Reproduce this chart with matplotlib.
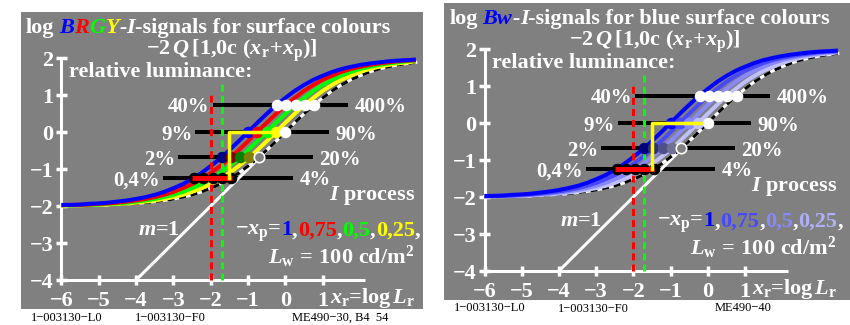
import numpy as np
import matplotlib
matplotlib.use('Agg')
import matplotlib.pyplot as plt
from matplotlib.transforms import offset_copy

W, H = 850, 325
plt.rcParams.update({
    'font.family': ['Liberation Serif', 'DejaVu Serif'],
    'font.weight': 'bold',
    'mathtext.fontset': 'custom',
    'mathtext.rm': 'Liberation Serif:bold',
    'mathtext.it': 'Liberation Serif:italic:bold',
    'mathtext.bf': 'Liberation Serif:bold',
    'mathtext.default': 'rm',
    'lines.scale_dashes': False,
})

# ---------------- data ----------------
x_ticks = [-6, -5, -4, -3, -2, -1, 0, 1]
y_ticks = [-4, -3, -2, -1, 0, 1, 2]
x_tick_labels = ['\u22126', '\u22125', '\u22124', '\u22123', '\u22122', '\u22121', '0', '1']
y_tick_labels = ['\u22124', '\u22123', '\u22122', '\u22121', '0', '1', '2']

# base curve (dashed, -xp = 0)
base_u = [-6.0, -5.75, -5.5, -5.25, -5.0, -4.75, -4.5, -4.25, -4.0, -3.75, -3.5,
          -3.25, -3.0, -2.75, -2.5, -2.25, -2.0, -1.75, -1.5, -1.25, -1.0, -0.75,
          -0.5, -0.25, 0.0, 0.25, 0.5, 0.75, 1.0, 1.25, 1.5, 1.75, 2.0, 2.25, 2.5,
          2.75, 3.0, 3.25, 3.5, 3.75, 4.0, 4.25, 4.5]
base_y = [-1.99, -1.99, -1.98, -1.98, -1.97, -1.97, -1.96, -1.94, -1.93, -1.91, -1.88,
          -1.85, -1.81, -1.76, -1.70, -1.62, -1.52, -1.41, -1.27, -1.11, -0.92, -0.72,
          -0.49, -0.25, 0.00, 0.25, 0.49, 0.72, 0.92, 1.11, 1.27, 1.41, 1.52, 1.62, 1.70,
          1.76, 1.81, 1.85, 1.88, 1.91, 1.93, 1.94, 1.96]
neg_xp = [1.0, 0.75, 0.5, 0.25]          # curve shifts (blue ... yellow)
neg_xp_labels = ['1', '0,75', '0,5', '0,25']

row_levels = [0.74, 0.0, -0.68, -1.24]
left_pct = ['40%', '9%', '2%', '0,4%']
right_pct = ['400%', '90%', '20%', '4%']
bar_start = [-1.95, -2.41, -2.87, -3.27]
bar_end = [1.67, 1.16, 0.73, 0.20]
row_points = [[-0.22, 0.03, 0.28, 0.53, 0.78],
              [-1.00, -0.75, -0.50, -0.25, 0.00],
              [-1.71, -1.46, -1.21, -0.96, -0.71],
              [-2.45, -2.20, -1.95, -1.70, -1.45]]
ref_x = [-2.0, -1.7]
red_bar = [-2.49, -1.44]
yellow_step_x = [-1.5, -1.5, 0.0]
yellow_step_y = [-1.24, 0.0, 0.0]
unit_line_x = [-4.0, 0.0]

left_colors = ['#0000ff', '#ff0000', '#00ff00', '#ffff00']
left_dark = ['#000080', '#800000', '#008000', '#808000']
right_colors = ['#0000ff', '#4848ff', '#8888ff', '#c0c0ff']
right_dark = ['#000080', '#303078', '#505088', '#707090']
right_label_colors = ['#0000ff', '#4848ff', '#8888ff', '#b0b0f8']

GREY = '#808080'
PX = 1 / 1.389  # points per pixel

fig = plt.figure(figsize=(8.5, 3.25), dpi=100)
fig.patch.set_facecolor('white')
renderer = fig.canvas.get_renderer()


def chain(ax, x, y, pieces, size, ha='left'):
    # place coloured text pieces one after another (pixel offsets)
    texts = []
    dx = 0.0
    for p in pieces:
        if isinstance(p, (int, float)):
            dx += p
            continue
        s, color, style = p
        tr = offset_copy(ax.transData, fig=fig, x=dx, y=0, units='dots')
        t = ax.text(x, y, s, color=color, fontsize=size, fontstyle=style,
                    transform=tr, ha='left', va='baseline', clip_on=False, zorder=10)
        dx += t.get_window_extent(renderer).width
        texts.append(t)
    return texts


def panel(left_px, top_px, width_px, ppu_x, colors, dark, label_colors, title_pieces, footer):
    h_px = 297
    ax = fig.add_axes([left_px / W, 1 - (top_px + h_px) / H, width_px / W, h_px / H])
    ax.set_facecolor(GREY)
    for sp in ax.spines.values():
        sp.set_visible(False)
    ax.set_xticks([])
    ax.set_yticks([])
    x0 = -6 - 40.5 / ppu_x
    ax.set_xlim(x0, x0 + width_px / ppu_x)
    ax.set_ylim(-4 - 29 / 37.0, -4 + 268 / 37.0)

    # axes
    ax.plot([-6, -6], [-4, 2], color='white', lw=3 * PX, zorder=3, solid_capstyle='butt')
    ax.plot([-6, 2.15], [-4, -4], color='white', lw=3 * PX, zorder=3, solid_capstyle='butt')
    for yt, lab in zip(y_ticks, y_tick_labels):
        ax.plot([-6.14, -5.86], [yt, yt], color='white', lw=3.5 * PX, zorder=3, solid_capstyle='butt')
        ax.text(-6.22, yt, lab, color='white', fontsize=16, ha='right', va='center_baseline')
    for xt, lab in zip(x_ticks, x_tick_labels):
        ax.plot([xt, xt], [-4.13, -3.87], color='white', lw=3.5 * PX, zorder=3, solid_capstyle='butt')
        ax.text(xt, -4.5, lab, color='white', fontsize=16, ha='center', va='center_baseline')
    ax.text(1.2, -4.62, r'$\mathit{x}_\mathrm{r}$=log$\,\mathit{L}_\mathrm{r}$', color='white',
            fontsize=16, ha='left', va='baseline')

    # bars and labels
    for yl, xs, xe, lp, rp in zip(row_levels, bar_start, bar_end, left_pct, right_pct):
        ax.plot([xs, xe], [yl, yl], color='black', lw=4 * PX, zorder=2, solid_capstyle='butt')
        ax.text(xs - 0.08, yl, lp, color='white', fontsize=15, ha='right', va='center_baseline')
        ax.text(xe + 0.18, yl, rp, color='white', fontsize=15, ha='left', va='center_baseline')

    # unit slope line
    ax.plot(unit_line_x, unit_line_x, color='white', lw=3 * PX, zorder=3)

    # curves
    bu = np.array(base_u)
    by = np.array(base_y)
    m = (bu >= -6) & (bu <= 3.5)
    ax.plot(bu[m], by[m], color='white', lw=3 * PX, zorder=4)
    ax.plot(bu[m], by[m], color='black', lw=3 * PX, zorder=4, dashes=(5, 3.5))
    for s, c in zip(neg_xp[::-1], colors[::-1]):
        xr = bu - s
        mm = (xr >= -6) & (xr <= 3.5)
        ax.plot(xr[mm], by[mm], color=c, lw=4 * PX, zorder=4, solid_capstyle='butt')

    # reference dashed verticals
    ax.plot([ref_x[0], ref_x[0]], [-4, 1.05], color='#ff0000', lw=3 * PX, zorder=5, dashes=(5, 3))
    ax.plot([ref_x[1], ref_x[1]], [-4, 1.4], color='#00ff00', lw=3 * PX, zorder=5, dashes=(5, 3))

    # circles
    ms = 7.5
    r0, r1, r2, r3 = row_points
    for xv in r0:
        ax.plot(xv, row_levels[0], 'o', ms=ms, mfc='white', mec='white', mew=0.8, zorder=6)
    for xv, c in zip(r1[:4], colors):
        ax.plot(xv, row_levels[1], 'o', ms=ms, mfc=c, mec=c, mew=0.8, zorder=6)
    for xv, c in zip(r2[:4], dark):
        ax.plot(xv, row_levels[2], 'o', ms=ms, mfc=c, mec=c, mew=0.8, zorder=6)
    ax.plot(r2[4], row_levels[2], 'o', ms=ms, mfc=GREY, mec='white', mew=1.2, zorder=6)
    for xv in r3:
        ax.plot(xv, row_levels[3], 'o', ms=ms, mfc='black', mec='black', mew=0.8, zorder=6)

    ax.plot(red_bar, [row_levels[3]] * 2, color='#ff0000', lw=5 * PX, zorder=7, solid_capstyle='butt')
    ax.plot(yellow_step_x, yellow_step_y, color='#ffff00', lw=3.5 * PX, zorder=7)
    ax.plot(r1[4], row_levels[1], 'o', ms=ms, mfc='white', mec='white', mew=0.8, zorder=8)

    # texts
    chain(ax, -6.95, 2.67, title_pieces, 16)
    ax.text(-1.42, 2.08, r'$-2\,\mathit{Q}\,[1{,}0\mathrm{c}\ (\mathit{x}_\mathrm{r}\!+\!\mathit{x}_\mathrm{p})]$',
            color='white', fontsize=16, ha='center', va='baseline')
    ax.text(-5.81, 1.50, 'relative luminance:', color='white', fontsize=16, ha='left', va='baseline')
    ax.text(3.49, -1.84, r'$\mathit{I}$ process', color='white', fontsize=16, ha='right', va='baseline')
    ax.text(-3.96, -2.79, r'$\mathit{m}$=1', color='white', fontsize=16, ha='left', va='baseline')
    pieces = [(r'$-\mathit{x}_\mathrm{p}$=', 'white', 'normal')]
    for lab, c in zip(neg_xp_labels, label_colors):
        pieces.append((lab, c, 'normal'))
        pieces.append((',', 'white', 'normal'))
    chain(ax, -1.36, -2.79, pieces, 16)
    ax.text(-0.47, -3.55, r'$\mathit{L}_\mathrm{w}\ \!=\ \!100\ \mathrm{cd/m}^2$', color='white',
            fontsize=16, ha='left', va='baseline')

    # footer
    for fx, fy, s in footer:
        fig.text(fx / W, 1 - fy / H, s, fontsize=9, fontweight='normal', color='black',
                 ha='left', va='baseline')
    return ax


title_left = [('log', 'white', 'normal'), 5,
              ('B', '#0000ff', 'italic'), ('R', '#ff0000', 'italic'),
              ('G', '#00ff00', 'italic'), ('Y', '#ffff00', 'italic'),
              ('-', 'white', 'italic'), ('I', 'white', 'italic'),
              ('-signals for surface colours', 'white', 'normal')]
title_right = [('log', 'white', 'normal'), 5,
               ('Bw', '#0000ff', 'italic'),
               ('-', 'white', 'italic'), ('I', 'white', 'italic'),
               ('-signals for blue surface colours', 'white', 'normal')]

panel(21, 12, 402, 37.3, left_colors, left_dark, left_colors, title_left,
      [(31, 321, '1\u2212003130\u2212L0'), (135, 321, '1\u2212003130\u2212F0'),
       (292, 321, 'ME490\u221230, B4  54')])
panel(444, 3, 406, 37.2, right_colors, right_dark, right_label_colors, title_right,
      [(454, 311, '1\u2212003130\u2212L0'), (558, 312, '1\u2212003130\u2212F0'),
       (715, 311, 'ME490\u221240')])

fig.savefig('out.png', dpi=100, facecolor='white')
